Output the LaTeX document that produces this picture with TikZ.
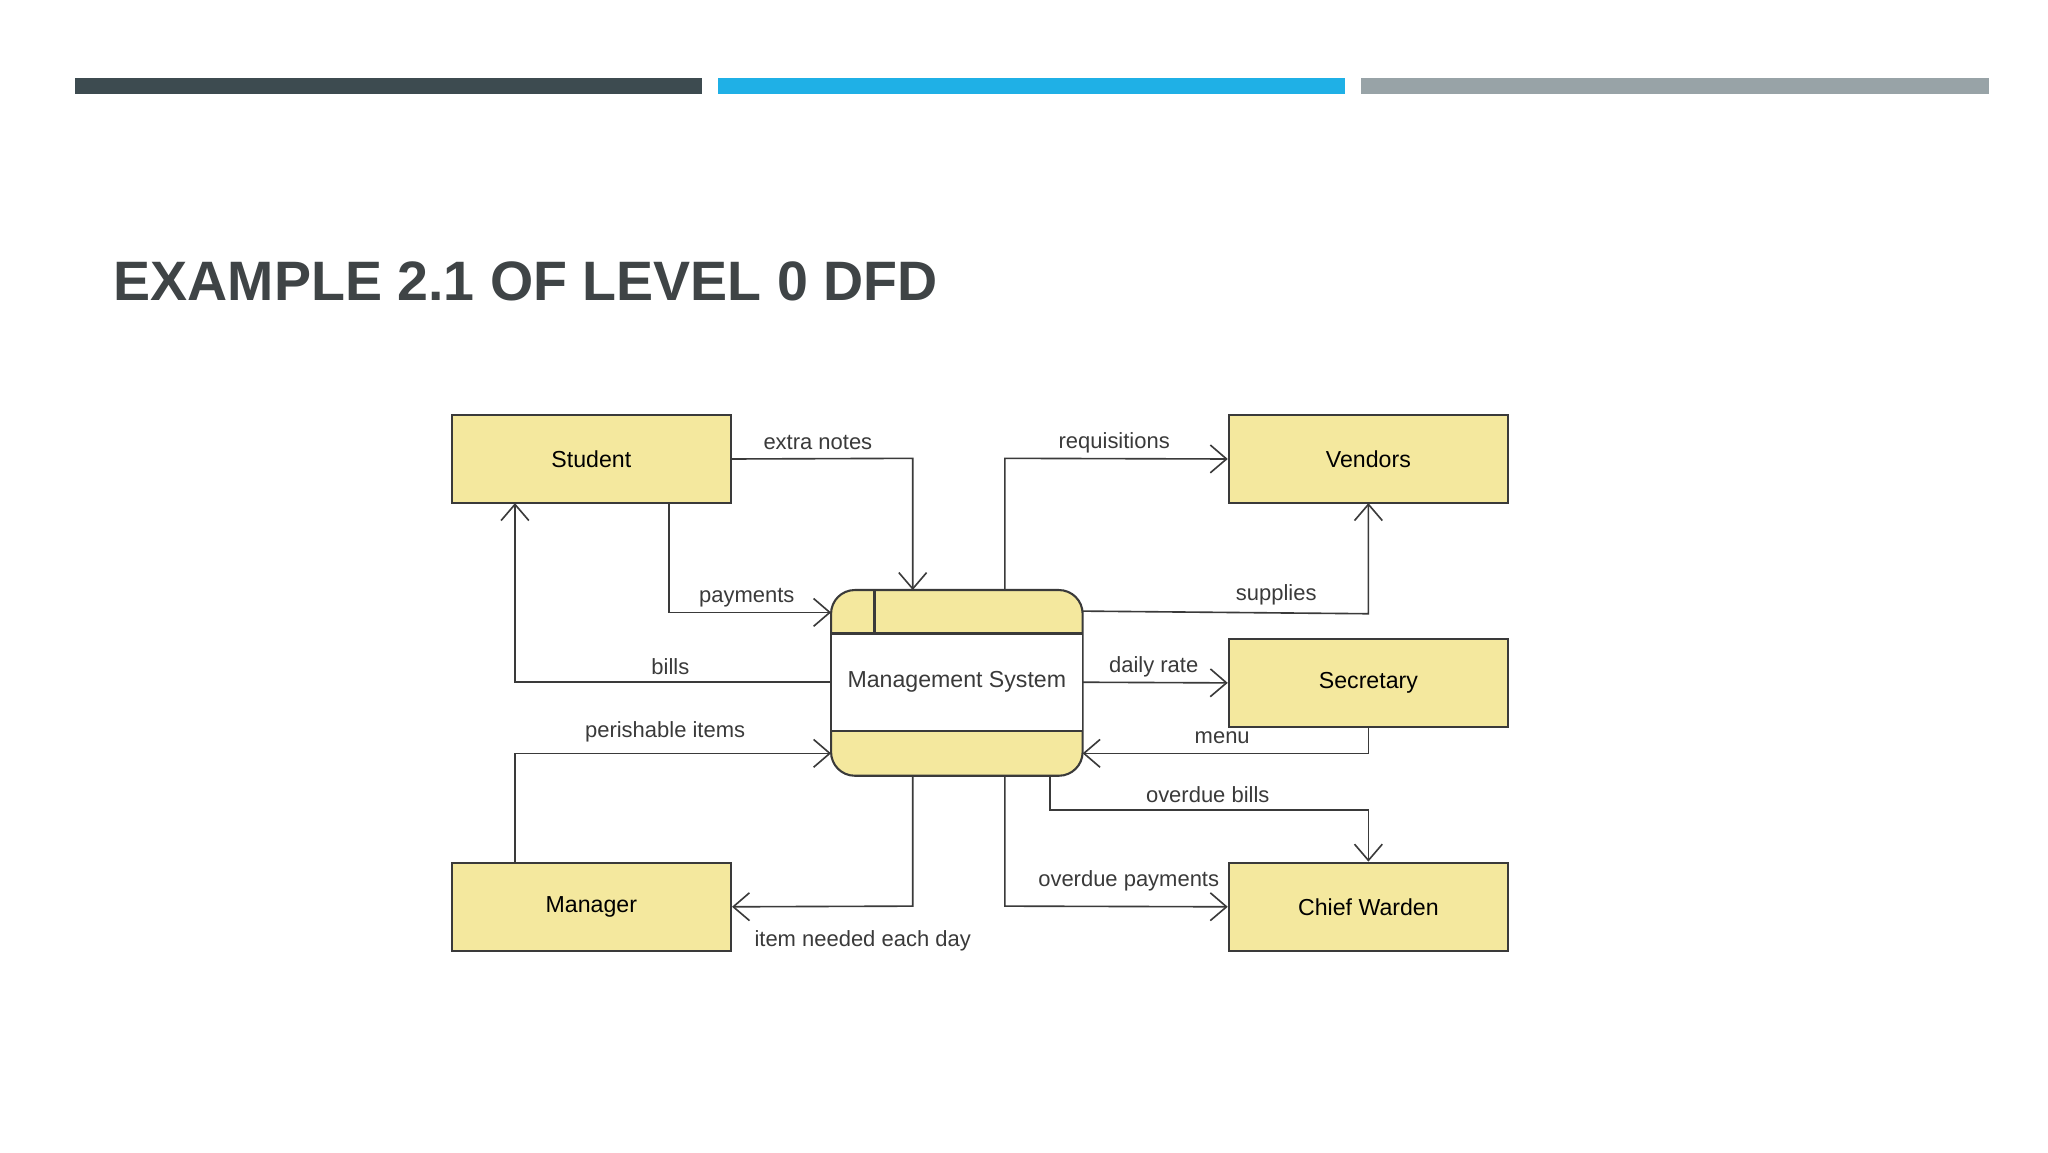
\documentclass[tikz,border=0pt]{standalone}
\usepackage{fontspec}
\setmainfont{Liberation Sans}
\usetikzlibrary{arrows.meta,calc}
\definecolor{boxy}{HTML}{F4E89E}
\definecolor{edge}{HTML}{3A3A3A}
\definecolor{titlec}{HTML}{3F4446}
\definecolor{barA}{HTML}{3D4B50}
\definecolor{barB}{HTML}{1FB0E6}
\definecolor{barC}{HTML}{98A3A7}
\begin{document}
\begin{tikzpicture}[x=0.02cm,y=-0.02cm,
  ent/.style={draw=edge,line width=0.9pt,fill=boxy,minimum width=212*0.02cm,minimum height=67*0.02cm,inner sep=0pt,font=\fontsize{10}{12}\selectfont},
  flow/.style={draw=edge,line width=0.7pt,-{Straight Barb[length=7pt,width=12pt,line width=0.7pt]}},
  lab/.style={font=\fontsize{9.5}{11}\selectfont,text=edge,inner sep=1pt}]
\useasboundingbox (0,0) rectangle (1555,875);
\fill[white] (0,0) rectangle (1555,875);
% bars
\fill[barA] (57,59) rectangle (533,71);
\fill[barB] (545,59) rectangle (1021,71);
\fill[barC] (1033,59) rectangle (1510,71);
\node[anchor=west,text=titlec,font=\fontsize{24}{28}\selectfont\bfseries,inner sep=0pt] (title) at (86,214) {EXAMPLE 2.1 OF LEVEL 0 DFD};
% entities
\node[ent] (student) at (449,348.5) {Student};
\node[ent] (vendors) at (1039,348.5) {Vendors};
\node[ent] (secretary) at (1039,518.5) {Secretary};
\node[ent] (manager) at (449,688.5) {Manager};
\node[ent] (warden) at (1039,688.5) {Chief Warden};
% process
\draw[edge,line width=0.9pt,fill=boxy,rounded corners=18*0.02cm] (631,448) rectangle (822,589);
\fill[white] (631.6,481) rectangle (821.4,555);
\draw[edge,line width=0.9pt] (631,481) -- (822,481) (631,555) -- (822,555) (664,448) -- (664,481);
\node[font=\fontsize{10}{12}\selectfont,text=edge] (ms) at (726.5,518) {Management System};
% flows
\draw[flow] (student.east) -- (693,348) -- (693,448);
\draw[flow] (508,382) -- (508,465) -- (631,465);
\draw[flow] (631,518) -- (391,518) -- (391,382);
\draw[flow] (391,655) -- (391,572) -- (631,572);
\draw[flow] (693,589) -- (693,688) -- (manager.east);
\draw[flow] (763,448) -- (763,348) -- (vendors.west);
\draw[flow] (822,464) -- (1039,466) -- (1039,382);
\draw[flow] (822,518) -- (secretary.west);
\draw[flow] (1039,552) -- (1039,572) -- (822,572);
\draw[flow] (797,589) -- (797,615) -- (1039,615) -- (warden.north);
\draw[flow] (763,589) -- (763,688) -- (warden.west);
% labels
\node[lab] (l1) at (621,336) {extra notes};
\node[lab] (l2) at (567,454) {payments};
\node[lab] (l3) at (509,506) {bills};
\node[lab] (l4) at (505,556) {perishable items};
\node[lab] (l5) at (655,714) {item needed each day};
\node[lab] (l6) at (846,336) {requisitions};
\node[lab] (l7) at (969,452) {supplies};
\node[lab] (l8) at (876,506) {daily rate};
\node[lab] (l9) at (928,560) {menu};
\node[lab] (l10) at (917,603) {overdue bills};
\node[lab] (l11) at (857,669) {overdue payments};
\end{tikzpicture}
\end{document}
